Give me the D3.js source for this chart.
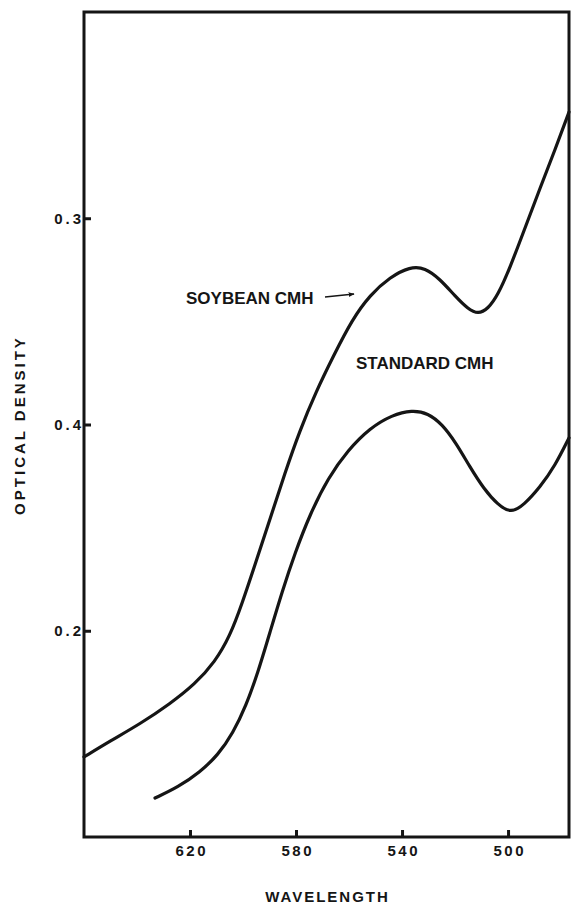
<!DOCTYPE html>
<html>
<head>
<meta charset="utf-8">
<script src="https://cdn.jsdelivr.net/npm/d3@7"></script>
<style>
  html, body { margin: 0; padding: 0; background: #fff; }
  svg { display: block; }
  text { font-family: "Liberation Sans", Arial, sans-serif; font-weight: bold; fill: #151515; }
</style>
</head>
<body>
<svg id="chart" width="571" height="905"></svg>
<script>
// Absorption spectra of haem preparations (optical density vs wavelength, nm)
const soybeanWavelength = [660.0, 650.2, 638.9, 627.6, 618.1, 610.6, 604.9, 600.4, 595.5, 589.8, 584.2, 578.5, 572.5, 565.7, 558.9, 552.1, 544.5, 537.0, 531.3, 525.7, 520.0, 515.1, 511.3, 507.6, 503.8, 499.3, 493.6, 487.9, 482.3, 477.0];
const soybeanDensity    = [0.1388, 0.1465, 0.1548, 0.1645, 0.1742, 0.1848, 0.1975, 0.2130, 0.2319, 0.2542, 0.2765, 0.2973, 0.3158, 0.3337, 0.3507, 0.3628, 0.3715, 0.3765, 0.3760, 0.3705, 0.3623, 0.3560, 0.3535, 0.3560, 0.3628, 0.3759, 0.3953, 0.4147, 0.4331, 0.4515];

const standardWavelength = [633.2, 624.5, 616.2, 609.4, 603.8, 598.9, 594.3, 589.8, 585.3, 580.4, 574.7, 567.9, 560.4, 552.1, 543.8, 536.2, 530.2, 524.9, 519.6, 514.4, 509.1, 503.8, 498.9, 494.0, 487.9, 482.3, 477.0];
const standardDensity    = [0.1189, 0.1242, 0.1315, 0.1398, 0.1504, 0.1635, 0.1800, 0.1994, 0.2188, 0.2377, 0.2566, 0.2741, 0.2876, 0.2983, 0.3046, 0.3070, 0.3055, 0.3002, 0.2910, 0.2794, 0.2687, 0.2610, 0.2570, 0.2610, 0.2697, 0.2799, 0.2935];

// Axis ticks; the density labels are kept in their printed order (bottom to top)
const wavelengthTicks = [620, 580, 540, 500];
const densityTicks = [0.2, 0.3, 0.4];
const densityTickLabels = ["0.2", "0.4", "0.3"];

const seriesNames = ["SOYBEAN CMH", "STANDARD CMH"];

const svg = d3.select("#chart");
const plotLeft = 84, plotRight = 569, plotTop = 12, plotBottom = 837;
const ink = "#151515";

const x = d3.scaleLinear().domain([660, 477]).range([plotLeft, plotRight]);
const y = d3.scaleLinear().domain([0.1, 0.5]).range([plotBottom, plotTop]);

// Frame
svg.append("rect")
  .attr("x", plotLeft).attr("y", plotTop)
  .attr("width", plotRight - plotLeft).attr("height", plotBottom - plotTop)
  .attr("fill", "none").attr("stroke", ink).attr("stroke-width", 3);

// Bottom axis, ticks pointing into the plot
const xAxis = svg.append("g")
  .attr("transform", `translate(0,${plotBottom})`)
  .call(d3.axisBottom(x).tickValues(wavelengthTicks).tickSizeInner(-7).tickSizeOuter(0).tickPadding(8).tickFormat(d3.format("d")));
xAxis.select(".domain").remove();
xAxis.selectAll(".tick line").attr("stroke", ink).attr("stroke-width", 3);
xAxis.selectAll(".tick text")
  .attr("font-family", "Liberation Sans, Arial, sans-serif")
  .attr("font-weight", "bold").attr("font-size", 15)
  .attr("fill", ink).style("letter-spacing", "2.5px").attr("dx", "1.25px");

// Left axis, ticks pointing into the plot
const yAxis = svg.append("g")
  .attr("transform", `translate(${plotLeft},0)`)
  .call(d3.axisLeft(y).tickValues(densityTicks).tickSizeInner(-7).tickSizeOuter(0).tickPadding(0)
    .tickFormat((d, i) => densityTickLabels[i]));
yAxis.select(".domain").remove();
yAxis.selectAll(".tick line").attr("stroke", ink).attr("stroke-width", 3);
yAxis.selectAll(".tick text")
  .attr("font-family", "Liberation Sans, Arial, sans-serif")
  .attr("font-weight", "bold").attr("font-size", 15)
  .attr("fill", ink).style("letter-spacing", "3px");

// Axis titles
svg.append("text")
  .attr("x", (plotLeft + plotRight) / 2 + 1).attr("y", 902)
  .attr("text-anchor", "middle").attr("font-size", 15)
  .style("letter-spacing", "2px")
  .text("WAVELENGTH");

svg.append("text")
  .attr("transform", "translate(25,425) rotate(-90)")
  .attr("text-anchor", "middle").attr("font-size", 15)
  .style("letter-spacing", "3px")
  .text("OPTICAL DENSITY");

// Spectra
const line = d3.line()
  .x(d => x(d[0])).y(d => y(d[1]))
  .curve(d3.curveBasis);

const series = [
  d3.zip(soybeanWavelength, soybeanDensity),
  d3.zip(standardWavelength, standardDensity)
];

svg.append("g").selectAll("path")
  .data(series)
  .join("path")
  .attr("d", line)
  .attr("fill", "none")
  .attr("stroke", ink)
  .attr("stroke-width", 3.2)
  .attr("stroke-linecap", "round")
  .attr("stroke-linejoin", "round");

// Curve labels
svg.append("text")
  .attr("x", 186).attr("y", 304)
  .attr("font-size", 17)
  .text(seriesNames[0]);

// Arrow from the label to its curve
svg.append("defs").append("marker")
  .attr("id", "head").attr("viewBox", "0 0 10 10")
  .attr("refX", 9).attr("refY", 5)
  .attr("markerWidth", 6).attr("markerHeight", 6)
  .attr("markerUnits", "userSpaceOnUse")
  .attr("orient", "auto")
  .append("path").attr("d", "M0,1 L10,5 L0,9 Z").attr("fill", ink);

svg.append("line")
  .attr("x1", 325).attr("y1", 297)
  .attr("x2", 354).attr("y2", 294)
  .attr("stroke", ink).attr("stroke-width", 1.6)
  .attr("marker-end", "url(#head)");

svg.append("text")
  .attr("x", 356).attr("y", 369)
  .attr("font-size", 17)
  .text(seriesNames[1]);
</script>
</body>
</html>
